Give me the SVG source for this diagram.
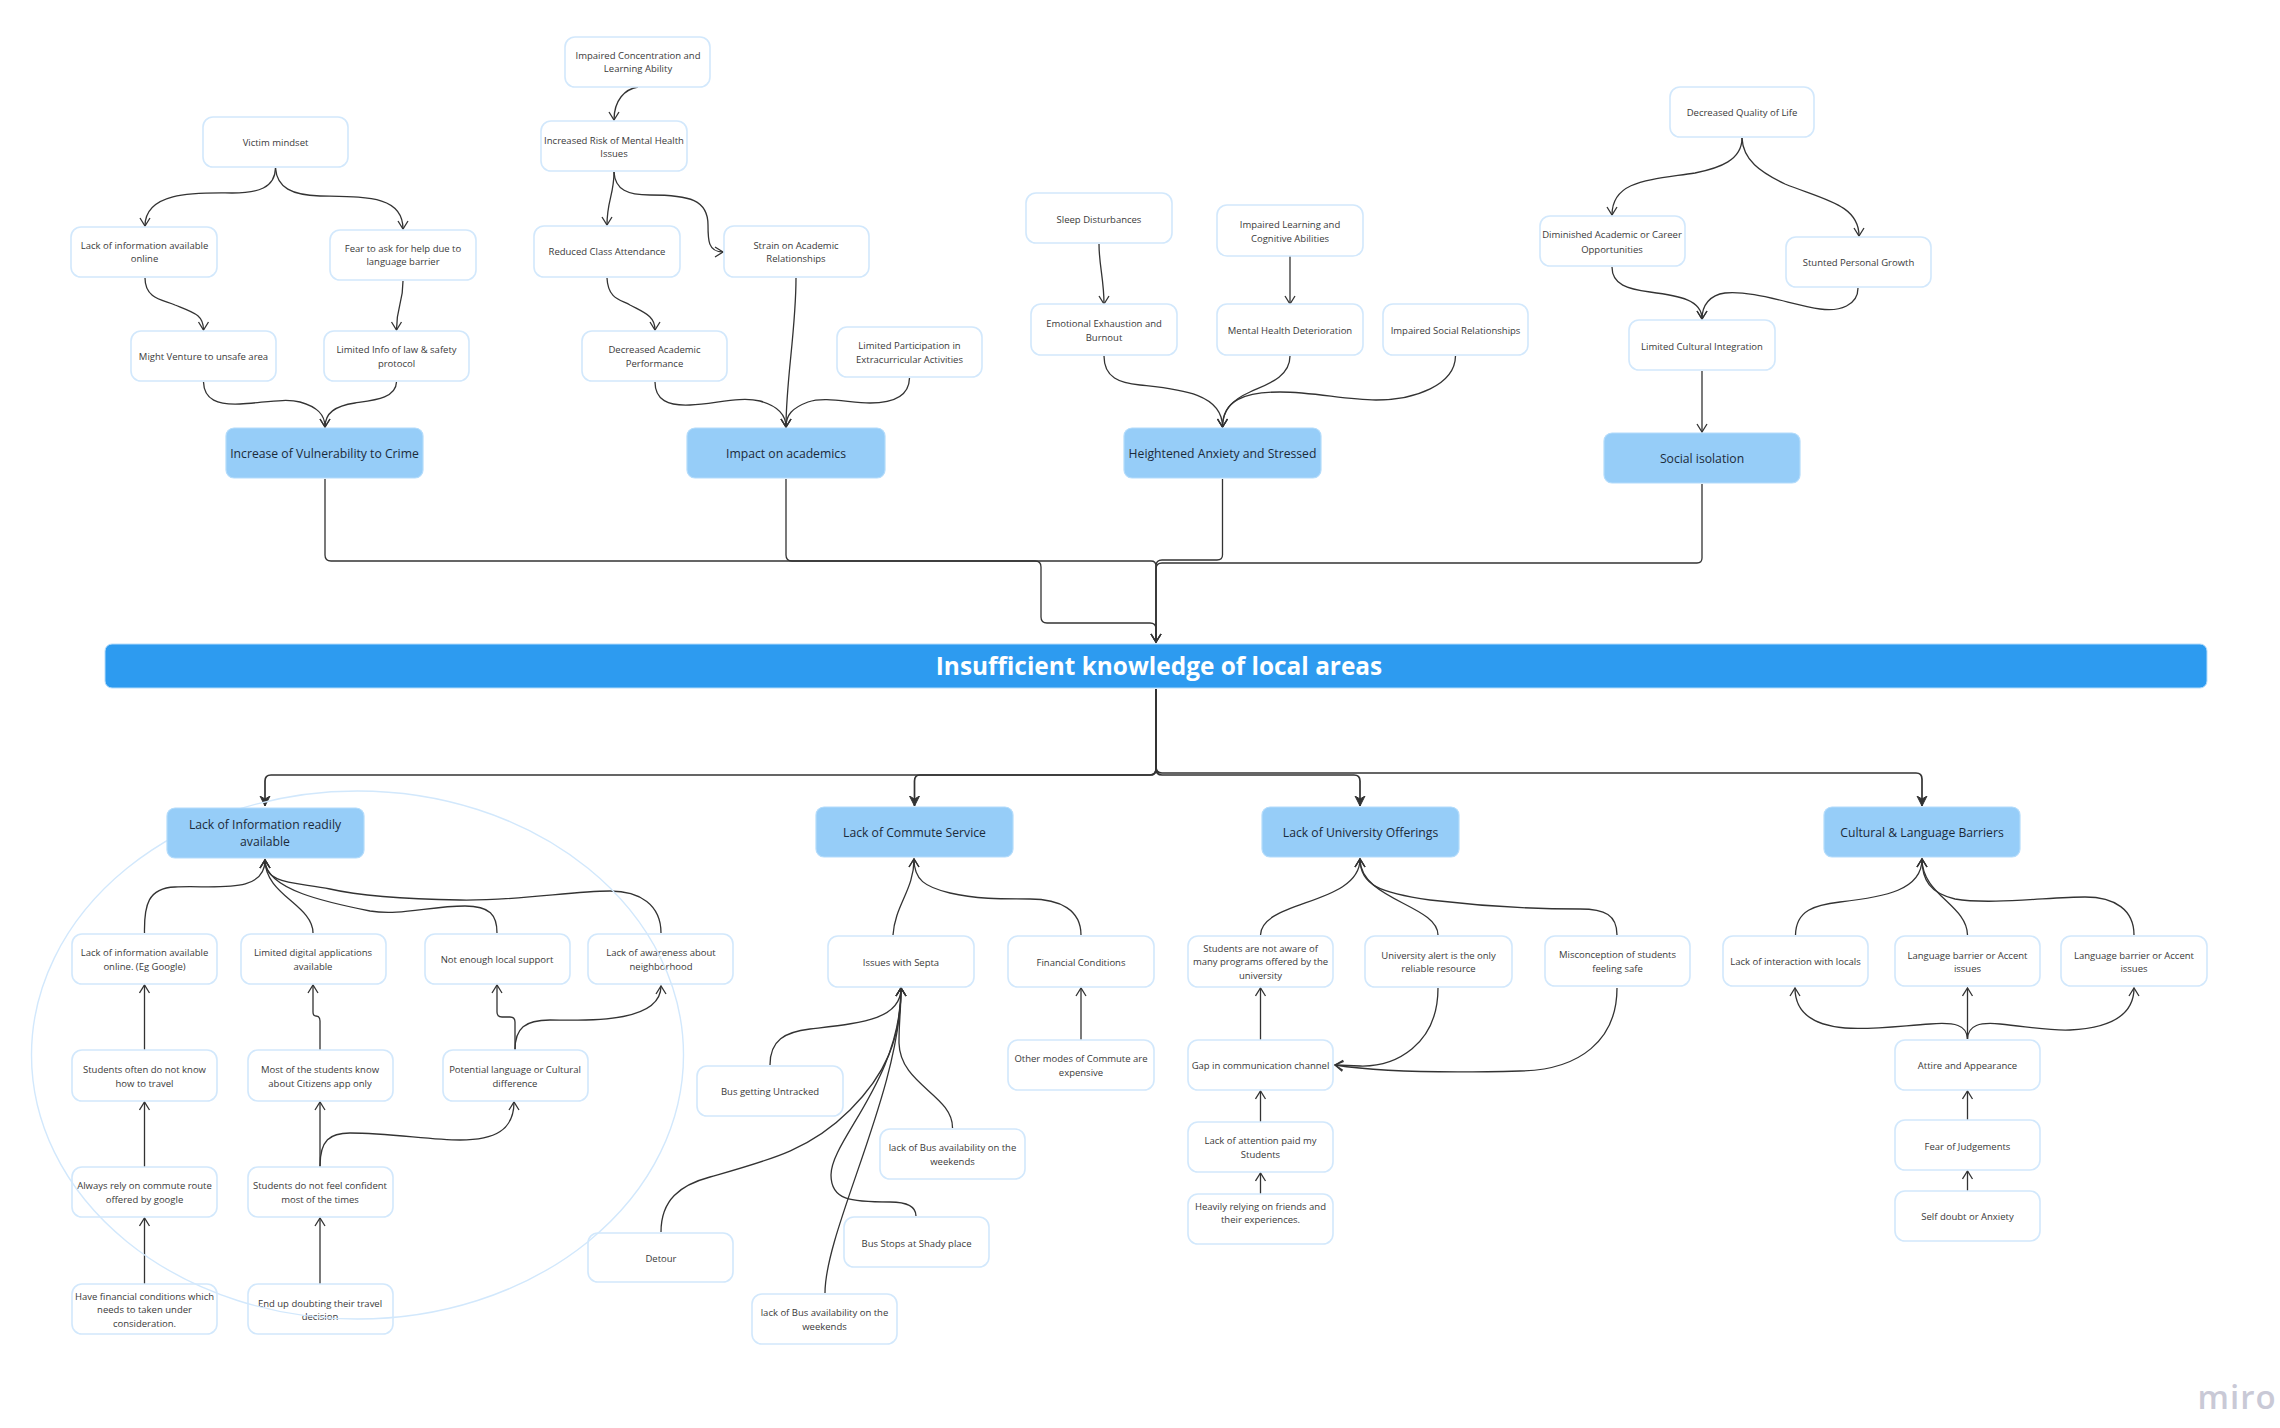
<svg xmlns="http://www.w3.org/2000/svg" width="2280" height="1428" viewBox="0 0 2280 1428">
<style>
text{font-family:"Open Sans","Noto Sans","Liberation Sans",sans-serif;text-anchor:middle}
.n rect{fill:#fff;stroke:#d2e8fc;stroke-width:1.6}
.n text{font-size:9.5px;fill:#3a3a3a}
.h rect{fill:#96cdf8;stroke:#b4dcfb;stroke-width:1.2}
.h text{font-size:12.2px;fill:#1c2b3a}
.c path{fill:none;stroke:#333;stroke-width:1.3;marker-end:url(#a)}
.c path.t{stroke-width:1.7;marker-end:url(#b)}
</style>
<defs>
<marker id="a" markerUnits="userSpaceOnUse" markerWidth="12" markerHeight="14" refX="9" refY="6" orient="auto"><path d="M1 1L9 6L1 11" fill="none" stroke="#333" stroke-width="1.3"/></marker>
<marker id="b" markerUnits="userSpaceOnUse" markerWidth="12" markerHeight="14" refX="10" refY="6" orient="auto"><path d="M0 1L10 6L0 11L3 6Z" fill="#333" stroke="#333"/></marker>
</defs>
<rect width="2280" height="1428" fill="#fff"/>
<g id="connectors" class="c">
<path d="M275.5 168C275 188 258 193 232 193C200 193 145 190 145 226"/>
<path d="M275.5 168C277 188 292 195 320 196C365 197 403 195 403 229"/>
<path d="M145 278C145 300 165 300 175 305C195 313 203.5 315 203.5 330"/>
<path d="M403 281C403 305 396.5 305 396.5 330"/>
<path d="M203.5 382C204 400 218 405 240 404C262 403 285 398 300 402C318 407 325 415 325 427"/>
<path d="M396.5 382C396 398 375 400 355 403C335 406 325 413 325 427"/>
<path d="M638 87C625 89 614 100 614 120"/>
<path d="M614 172C614 195 607 200 607 225"/>
<path d="M614 172C615 190 628 195 650 195C690 195 708 200 708 225C708 240 708 252 723 252"/>
<path d="M607 278C608 300 622 300 630 305C645 313 655 316 655 330"/>
<path d="M655 382C655 400 668 406 690 405C715 404 740 396 760 401C778 406 786 415 786 427"/>
<path d="M796 278C796 330 786 380 786 427"/>
<path d="M909.5 378C909 398 890 403 870 403C850 403 825 396 808 402C792 408 786 415 786 427"/>
<path d="M1099 244C1099 265 1104 280 1104 304"/>
<path d="M1290 256L1290 304"/>
<path d="M1104 356C1104 378 1120 383 1140 385C1175 389 1222.5 392 1222.5 427"/>
<path d="M1290 356C1290 378 1265 385 1250 392C1232 400 1222.5 410 1222.5 427"/>
<path d="M1455.5 356C1455 385 1415 400 1376 400C1345 400 1315 392 1280 392C1245 392 1222.5 400 1222.5 427"/>
<path d="M1742 138C1742 160 1720 168 1695 173C1650 180 1612 180 1612 215"/>
<path d="M1742 138C1743 160 1760 172 1785 184C1825 200 1859 205 1859 236"/>
<path d="M1612 267C1612 285 1628 289 1650 292C1680 296 1702 300 1702 319"/>
<path d="M1858 288C1858 305 1840 312 1820 309C1790 304 1750 290 1725 293C1710 295 1702 305 1702 319"/>
<path d="M1702 371L1702 432"/>
<path d="M325 479L325 555Q325 561 331 561L1151 561Q1156 561 1156 566L1156 642"/>
<path d="M786 479L786 555Q786 561 792 561L1035 561Q1041 561 1041 567L1041 617Q1041 623 1047 623L1150 623Q1156 623 1156 629L1156 642"/>
<path d="M1222.5 479L1222.5 555Q1222.5 560 1217 560L1162 560Q1156 560 1156 566L1156 642"/>
<path d="M1702 484L1702 558Q1702 563 1697 563L1162 563Q1156 563 1156 569L1156 642"/>
<path class="t" d="M1156 689L1156 769Q1156 775 1150 775L271 775Q265 775 265 781L265 806"/>
<path class="t" d="M1156 689L1156 769Q1156 775 1150 775L920 775Q914.5 775 914.5 781L914.5 806"/>
<path class="t" d="M1156 689L1156 769Q1156 775 1162 775L1354 775Q1360 775 1360 781L1360 806"/>
<path class="t" d="M1156 689L1156 767Q1156 773 1162 773L1916 773Q1922 773 1922 779L1922 806"/>
<path d="M144.5 933C144 905 148 888 175 887C215 885 265 895 265 860"/>
<path d="M313 933C313 905 265 895 265 860"/>
<path d="M497 933C497 915 490 906 465 906C430 906 400 916 370 911C330 903 265 890 265 860"/>
<path d="M661 933C661 905 640 891 610 891C570 891 520 901 460 900C400 899 360 896 330 889C295 882 265 885 265 860"/>
<path d="M144.5 1050L144.5 985"/>
<path d="M144.5 1167L144.5 1102"/>
<path d="M144.5 1284L144.5 1218"/>
<path d="M320 1050L320 1021Q320 1016 316 1016Q313 1016 313 1012L313 985"/>
<path d="M320 1167L320 1102"/>
<path d="M320 1284L320 1218"/>
<path d="M320 1166C320 1140 330 1133 350 1133C390 1133 430 1140 460 1140C495 1140 514 1130 514 1102"/>
<path d="M515 1050L515 1022Q515 1017 510 1017L502 1017Q497 1017 497 1012L497 985"/>
<path d="M515 1050C515 1028 525 1020 550 1020C580 1020 661 1025 661 986"/>
<path d="M893 935C895 905 914 890 914 859"/>
<path d="M1081 935C1081 910 1060 899 1030 899C1000 899 975 899 950 893C925 887 914 880 914 859"/>
<path d="M1081 1040L1081 988"/>
<path d="M770 1065C770 1040 785 1032 810 1029C860 1023 901 1020 901 988"/>
<path d="M952.5 1128C953 1095 900 1085 899 1043C899 1020 901 1010 901 988"/>
<path d="M916 1216C916 1205 905 1202 890 1202C850 1202 831 1200 831 1175C831 1140 901 1080 901 988"/>
<path d="M661 1232C661 1200 680 1185 710 1177C770 1160 810 1150 850 1110C885 1075 901 1040 901 988"/>
<path d="M825 1293C825 1230 901 1090 901 988"/>
<path d="M1260.5 935C1261 900 1360 905 1360 859"/>
<path d="M1438 935C1438 905 1360 900 1360 859"/>
<path d="M1617 935C1617 915 1605 909 1580 909C1530 909 1480 906 1430 900C1380 893 1360 885 1360 859"/>
<path d="M1260.5 1040L1260.5 988"/>
<path d="M1260.5 1122L1260.5 1091"/>
<path d="M1260.5 1194L1260.5 1173"/>
<path d="M1438 988C1438 1045 1395 1067 1360 1066L1335 1065"/>
<path d="M1617 988C1617 1040 1580 1070 1520 1071C1450 1073 1380 1072 1335 1065"/>
<path d="M1795.5 935C1796 910 1815 905 1840 902C1885 897 1922 890 1922 859"/>
<path d="M1967.5 935C1967 905 1922 895 1922 859"/>
<path d="M2134 935C2134 910 2115 897 2085 897C2050 897 1990 905 1955 899C1930 893 1922 880 1922 859"/>
<path d="M1967.5 1039L1967.5 988"/>
<path d="M1967.5 1039C1967 1025 1955 1022 1930 1024C1900 1026 1870 1030 1845 1028C1810 1025 1795 1010 1795 988"/>
<path d="M1967.5 1039C1968 1025 1980 1022 2000 1024C2030 1027 2050 1031 2070 1030C2110 1028 2134 1015 2134 988"/>
<path d="M1967.5 1120L1967.5 1091"/>
<path d="M1967.5 1191L1967.5 1171"/>
</g>
<g id="victim" class="n"><rect x="203" y="117" width="145" height="50" rx="10"/><text x="275.5" y="145.5">Victim mindset</text></g>
<g id="impaired-conc" class="n"><rect x="565" y="37" width="145" height="50" rx="10"/><text x="638" y="58.8">Impaired Concentration and</text><text x="638" y="72.2">Learning Ability</text></g>
<g id="increased-risk" class="n"><rect x="541" y="121" width="146" height="50" rx="10"/><text x="614" y="143.8">Increased Risk of Mental Health</text><text x="614" y="157.2">Issues</text></g>
<g id="lack-online-top" class="n"><rect x="71" y="227" width="146" height="50" rx="10"/><text x="144.5" y="249">Lack of information available</text><text x="144.5" y="262.4">online</text></g>
<g id="fear-ask" class="n"><rect x="330" y="230" width="146" height="50" rx="10"/><text x="403" y="252">Fear to ask for help due to</text><text x="403" y="265.4">language barrier</text></g>
<g id="reduced" class="n"><rect x="534" y="226" width="146" height="51" rx="10"/><text x="607" y="255">Reduced Class Attendance</text></g>
<g id="strain" class="n"><rect x="724" y="226" width="145" height="51" rx="10"/><text x="796" y="248.5">Strain on Academic</text><text x="796" y="262">Relationships</text></g>
<g id="might" class="n"><rect x="131" y="331" width="145" height="50" rx="10"/><text x="203.5" y="359.5">Might Venture to unsafe area</text></g>
<g id="limited-info" class="n"><rect x="324" y="331" width="145" height="50" rx="10"/><text x="396.5" y="353">Limited Info of law &amp; safety</text><text x="396.5" y="366.5">protocol</text></g>
<g id="decreased-acad" class="n"><rect x="582" y="331" width="145" height="50" rx="10"/><text x="654.5" y="353">Decreased Academic</text><text x="654.5" y="366.5">Performance</text></g>
<g id="limited-part" class="n"><rect x="837" y="327" width="145" height="50" rx="10"/><text x="909.5" y="349">Limited Participation in</text><text x="909.5" y="362.5">Extracurricular Activities</text></g>
<g id="sleep" class="n"><rect x="1026" y="193" width="146" height="50" rx="10"/><text x="1099" y="222.5">Sleep Disturbances</text></g>
<g id="impaired-learning" class="n"><rect x="1217" y="205" width="146" height="51" rx="10"/><text x="1290" y="227.5">Impaired Learning and</text><text x="1290" y="241.5">Cognitive Abilities</text></g>
<g id="emotional" class="n"><rect x="1031" y="304" width="146" height="51" rx="10"/><text x="1104" y="327">Emotional Exhaustion and</text><text x="1104" y="340.5">Burnout</text></g>
<g id="mental" class="n"><rect x="1217" y="304" width="146" height="51" rx="10"/><text x="1290" y="334">Mental Health Deterioration</text></g>
<g id="impaired-social" class="n"><rect x="1383" y="304" width="145" height="51" rx="10"/><text x="1455.5" y="334">Impaired Social Relationships</text></g>
<g id="qol" class="n"><rect x="1670" y="87" width="144" height="50" rx="10"/><text x="1742" y="116">Decreased Quality of Life</text></g>
<g id="diminished" class="n"><rect x="1540" y="216" width="145" height="50" rx="10"/><text x="1612" y="238">Diminished Academic or Career</text><text x="1612" y="252.5">Opportunities</text></g>
<g id="stunted" class="n"><rect x="1786" y="237" width="145" height="50" rx="10"/><text x="1858.5" y="266">Stunted Personal Growth</text></g>
<g id="limited-cultural" class="n"><rect x="1629" y="320" width="146" height="50" rx="10"/><text x="1702" y="349.5">Limited Cultural Integration</text></g>
<g id="lack-online" class="n"><rect x="72" y="934" width="145" height="50" rx="10"/><text x="144.5" y="956">Lack of information available</text><text x="144.5" y="970">online. (Eg Google)</text></g>
<g id="limited-digital" class="n"><rect x="241" y="934" width="145" height="50" rx="10"/><text x="313" y="956">Limited digital applications</text><text x="313" y="970">available</text></g>
<g id="not-enough" class="n"><rect x="425" y="934" width="145" height="50" rx="10"/><text x="497" y="962.5">Not enough local support</text></g>
<g id="awareness" class="n"><rect x="588" y="934" width="145" height="50" rx="10"/><text x="661" y="956">Lack of awareness about</text><text x="661" y="970">neighborhood</text></g>
<g id="students-often" class="n"><rect x="72" y="1050" width="145" height="51" rx="10"/><text x="144.5" y="1073">Students often do not know</text><text x="144.5" y="1086.5">how to travel</text></g>
<g id="most-students" class="n"><rect x="248" y="1050" width="145" height="51" rx="10"/><text x="320" y="1073">Most of the students know</text><text x="320" y="1086.5">about Citizens app only</text></g>
<g id="potential" class="n"><rect x="443" y="1050" width="145" height="51" rx="10"/><text x="515" y="1073">Potential language or Cultural</text><text x="515" y="1086.5">difference</text></g>
<g id="always" class="n"><rect x="72" y="1167" width="145" height="50" rx="10"/><text x="144.5" y="1189">Always rely on commute route</text><text x="144.5" y="1203">offered by google</text></g>
<g id="not-confident" class="n"><rect x="248" y="1167" width="145" height="50" rx="10"/><text x="320" y="1189">Students do not feel confident</text><text x="320" y="1203">most of the times</text></g>
<g id="financial-cond" class="n"><rect x="72" y="1284" width="145" height="50" rx="10"/><text x="144.5" y="1299.5">Have financial conditions which</text><text x="144.5" y="1313">needs to taken under</text><text x="144.5" y="1326.5">consideration.</text></g>
<g id="end-up" class="n"><rect x="248" y="1284" width="145" height="50" rx="10"/><text x="320" y="1306.5">End up doubting their travel</text><text x="320" y="1320">decision</text></g>
<g id="septa" class="n"><rect x="828" y="936" width="146" height="51" rx="10"/><text x="901" y="965.5">Issues with Septa</text></g>
<g id="financial" class="n"><rect x="1008" y="936" width="146" height="51" rx="10"/><text x="1081" y="965.5">Financial Conditions</text></g>
<g id="other-modes" class="n"><rect x="1008" y="1040" width="146" height="50" rx="10"/><text x="1081" y="1061.5">Other modes of Commute are</text><text x="1081" y="1076">expensive</text></g>
<g id="untracked" class="n"><rect x="697" y="1066" width="146" height="50" rx="10"/><text x="770" y="1095">Bus getting Untracked</text></g>
<g id="bus-avail-1" class="n"><rect x="880" y="1129" width="145" height="50" rx="10"/><text x="952.5" y="1150.5">lack of Bus availability on the</text><text x="952.5" y="1165">weekends</text></g>
<g id="bus-stops" class="n"><rect x="844" y="1217" width="145" height="50" rx="10"/><text x="916.5" y="1246.5">Bus Stops at Shady place</text></g>
<g id="detour" class="n"><rect x="588" y="1233" width="145" height="49" rx="10"/><text x="661" y="1261.5">Detour</text></g>
<g id="bus-avail-2" class="n"><rect x="752" y="1294" width="145" height="50" rx="10"/><text x="824.5" y="1315.5">lack of Bus availability on the</text><text x="824.5" y="1330">weekends</text></g>
<g id="not-aware" class="n"><rect x="1188" y="936" width="145" height="51" rx="10"/><text x="1260.5" y="951.5">Students are not aware of</text><text x="1260.5" y="965">many programs offered by the</text><text x="1260.5" y="978.5">university</text></g>
<g id="uni-alert" class="n"><rect x="1365" y="936" width="147" height="51" rx="10"/><text x="1438.5" y="958.5">University alert is the only</text><text x="1438.5" y="972">reliable resource</text></g>
<g id="misconception" class="n"><rect x="1545" y="936" width="145" height="50" rx="10"/><text x="1617.5" y="958">Misconception of students</text><text x="1617.5" y="972">feeling safe</text></g>
<g id="gap" class="n"><rect x="1188" y="1040" width="145" height="50" rx="10"/><text x="1260.5" y="1068.5">Gap in communication channel</text></g>
<g id="attention" class="n"><rect x="1188" y="1122" width="145" height="50" rx="10"/><text x="1260.5" y="1144">Lack of attention paid my</text><text x="1260.5" y="1157.5">Students</text></g>
<g id="heavily" class="n"><rect x="1188" y="1194" width="145" height="50" rx="10"/><text x="1260.5" y="1209.5">Heavily relying on friends and</text><text x="1260.5" y="1223">their experiences.</text></g>
<g id="interaction" class="n"><rect x="1723" y="936" width="145" height="50" rx="10"/><text x="1795.5" y="965">Lack of interaction with locals</text></g>
<g id="language-1" class="n"><rect x="1895" y="936" width="145" height="50" rx="10"/><text x="1967.5" y="958.5">Language barrier or Accent</text><text x="1967.5" y="972">issues</text></g>
<g id="language-2" class="n"><rect x="2061" y="936" width="146" height="50" rx="10"/><text x="2134" y="958.5">Language barrier or Accent</text><text x="2134" y="972">issues</text></g>
<g id="attire" class="n"><rect x="1895" y="1040" width="145" height="50" rx="10"/><text x="1967.5" y="1069">Attire and Appearance</text></g>
<g id="fear-judge" class="n"><rect x="1895" y="1120" width="145" height="50" rx="10"/><text x="1967.5" y="1149.5">Fear of Judgements</text></g>
<g id="self-doubt" class="n"><rect x="1895" y="1191" width="145" height="50" rx="10"/><text x="1967.5" y="1220">Self doubt or Anxiety</text></g>
<ellipse id="grouping-circle" cx="357.5" cy="1055" rx="326" ry="264" fill="none" stroke="#d2e8fc" stroke-width="1.4"/>
<g id="h-crime" class="h"><rect x="226" y="428" width="197" height="50" rx="8"/><text x="324.5" y="458">Increase of Vulnerability to Crime</text></g>
<g id="h-academics" class="h"><rect x="687" y="428" width="198" height="50" rx="8"/><text x="786" y="458">Impact on academics</text></g>
<g id="h-anxiety" class="h"><rect x="1124" y="428" width="197" height="50" rx="8"/><text x="1222.5" y="458">Heightened Anxiety and Stressed</text></g>
<g id="h-social" class="h"><rect x="1604" y="433" width="196" height="50" rx="8"/><text x="1702" y="463">Social isolation</text></g>
<g id="banner"><rect x="105" y="644" width="2102" height="44" rx="7" fill="#2d9bf0" stroke="#b4dcfb" stroke-width="1"/><text x="1159" y="675" font-size="24.4" font-weight="700" fill="#fff">Insufficient knowledge of local areas</text></g>
<g id="h-info" class="h"><rect x="167" y="808" width="197" height="50" rx="8"/><text x="265" y="828.5">Lack of Information readily</text><text x="265" y="846">available</text></g>
<g id="h-commute" class="h"><rect x="816" y="807" width="197" height="50" rx="8"/><text x="914.5" y="836.5">Lack of Commute Service</text></g>
<g id="h-university" class="h"><rect x="1262" y="807" width="197" height="50" rx="8"/><text x="1360.5" y="836.5">Lack of University Offerings</text></g>
<g id="h-cultural" class="h"><rect x="1824" y="807" width="196" height="50" rx="8"/><text x="1922" y="836.5">Cultural &amp; Language Barriers</text></g>
<text id="miro" x="2237" y="1409" font-size="33" font-weight="600" fill="#c9c9d6" letter-spacing="1">miro</text>
</svg>
